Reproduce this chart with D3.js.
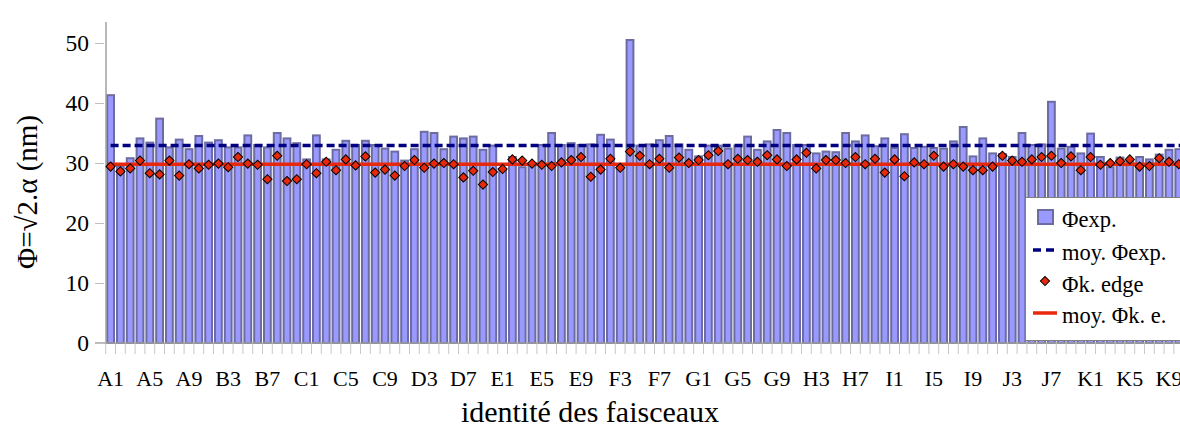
<!DOCTYPE html>
<html><head><meta charset="utf-8">
<script src="https://cdn.jsdelivr.net/npm/d3@7"></script>
<style>
body{margin:0;background:#fff}
svg{display:block}
</style>
</head><body><svg id="c" width="1180" height="428" font-family="Liberation Serif, Times New Roman, serif"></svg>
<script>
const letters = ["A","B","C","D","E","F","G","H","I","J","K"];
const numbers = [1,2,3,4,5,6,7,8,9,10];
const categories = letters.flatMap(l => numbers.map(n => l + n));

const phiExp = [
  41.3,29.5,30.8,34.1,33.4,37.4,32.6,33.9,32.3,34.5,
  33.4,33.8,32.6,32.6,34.6,33.0,32.6,35.0,34.1,33.3,
  30.6,34.6,30.6,32.2,33.7,33.0,33.7,33.0,32.4,31.9,
  30.4,32.3,35.2,35.0,32.3,34.4,34.1,34.4,32.2,32.9,
  29.0,31.0,29.3,29.8,33.0,35.0,33.0,33.3,33.0,33.1,
  34.7,33.9,29.5,50.5,32.9,33.1,33.8,34.5,33.1,32.2,
  31.1,32.9,32.9,32.4,32.9,34.4,32.2,33.6,35.5,35.0,
  33.0,33.0,31.6,31.9,31.8,35.0,33.6,34.6,32.8,34.1,
  32.5,34.8,32.5,32.7,32.5,32.4,33.6,36.0,31.1,34.1,
  31.6,31.5,31.0,35.0,33.0,33.1,40.2,32.4,32.7,31.6,
  34.9,31.0,29.3,30.9,30.5,31.0,30.6,31.4,32.2,32.3
];
const phiKEdge = [
  29.4,28.6,29.1,30.4,28.3,28.1,30.4,27.9,29.8,29.1,
  29.7,29.9,29.3,31.0,29.9,29.7,27.3,31.2,27.0,27.3,
  29.8,28.3,30.2,28.8,30.6,29.6,31.1,28.4,28.9,27.9,
  29.5,30.5,29.2,29.9,30.0,29.8,27.6,28.7,26.4,28.5,
  29.0,30.6,30.4,29.9,29.7,29.5,30.1,30.5,31.0,27.7,
  28.9,30.7,29.2,31.9,31.2,29.8,30.7,29.2,30.9,30.0,
  30.5,31.3,32.0,29.8,30.7,30.5,30.2,31.3,30.6,29.5,
  30.6,31.7,29.1,30.5,30.5,30.0,31.0,29.8,30.7,28.4,
  30.6,27.8,30.1,29.8,31.2,29.4,29.8,29.4,28.8,28.8,
  29.4,31.2,30.4,30.2,30.6,31.0,31.2,30.0,31.1,28.8,
  31.0,29.7,30.0,30.3,30.6,29.4,29.5,30.8,30.2,29.8
];
const meanPhiExp = 32.9;
const meanPhiKE = 29.8;
const yTicks = [0,10,20,30,40,50];
const xTickLabels = categories.filter((d,i) => i % 4 === 0);
const legendLabels = ["Φexp.","moy. Φexp.","Φk. edge","moy. Φk. e."];
const yTitle = "Φ=√2.α (nm)";
const xTitle = "identité des faisceaux";

const FONT = '"Liberation Serif","Times New Roman",serif';
const svg = d3.select("#c");
const x0 = 105.7, bandW = 9.8;
const x = d3.scaleBand().domain(categories).range([x0, x0 + bandW * categories.length]).padding(0);
const y = d3.scaleLinear().domain([0, 55]).range([343, 13]);
const bw = x.bandwidth();

const barFill = "#9999ff", barStroke = "#6c6ca0";
const navy = "#000080", red = "#e8280c";

// bars
svg.append("g").selectAll("rect").data(phiExp).join("rect")
  .attr("x", (d,i) => x(categories[i]) + 1.5)
  .attr("width", bw - 3)
  .attr("y", d => y(d))
  .attr("height", d => y(0) - y(d))
  .attr("fill", barFill)
  .attr("stroke", barStroke)
  .attr("stroke-width", 2);

// x axis line and ticks
svg.append("line").attr("x1", 95).attr("x2", 1180).attr("y1", y(0)).attr("y2", y(0))
  .attr("stroke", "#a0a0a0").attr("stroke-width", 1.5);
svg.append("g").selectAll("line").data(d3.range(categories.length + 1)).join("line")
  .attr("x1", i => x0 + i * bw).attr("x2", i => x0 + i * bw)
  .attr("y1", y(0) + 1).attr("y2", y(0) + 11)
  .attr("stroke", "#c8c8c8").attr("stroke-width", 1);

const xAxis = svg.append("g").attr("transform", `translate(0,${y(0)})`)
  .call(d3.axisBottom(x).tickValues(xTickLabels).tickSize(0));
xAxis.attr("font-family", null).attr("font-size", null);
xAxis.select(".domain").remove();
xAxis.selectAll("text").attr("y", 43).attr("dy", 0)
  .style("font-family", FONT).style("font-size", "22px").attr("fill", "#000");

// y axis
const yAxis = svg.append("g").attr("transform", "translate(104,0)")
  .call(d3.axisLeft(y).tickValues(yTicks).tickSize(9).tickPadding(6));
yAxis.attr("font-family", null).attr("font-size", null);
yAxis.select(".domain").remove();
yAxis.selectAll(".tick line").attr("stroke", "#c0c0c0");
yAxis.selectAll("text").style("font-family", FONT).style("font-size", "23.5px").attr("fill", "#000");
svg.append("line").attr("x1", 106).attr("x2", 106).attr("y1", 22).attr("y2", y(0))
  .attr("stroke", "#a0a0a0").attr("stroke-width", 1.5);

// mean lines
const xFirst = x(categories[0]) + bw / 2;
const xLast = x(categories[categories.length - 1]) + bw;
svg.append("line").attr("x1", xFirst).attr("x2", xLast)
  .attr("y1", y(meanPhiExp)).attr("y2", y(meanPhiExp))
  .attr("stroke", navy).attr("stroke-width", 3.5).attr("stroke-dasharray", "8,4");
svg.append("line").attr("x1", 107).attr("x2", xLast)
  .attr("y1", y(meanPhiKE)).attr("y2", y(meanPhiKE))
  .attr("stroke", red).attr("stroke-width", 3.5);

// diamonds
const diamond = d3.symbol(d3.symbolSquare, 42);
svg.append("g").selectAll("path").data(phiKEdge).join("path")
  .attr("d", diamond)
  .attr("transform", (d,i) => `translate(${x(categories[i]) + bw/2},${y(d)}) rotate(45)`)
  .attr("fill", red).attr("stroke", "#000").attr("stroke-width", 1);

// legend
const lg = svg.append("g");
lg.append("rect").attr("x", 1025.5).attr("y", 197.5).attr("width", 170).attr("height", 143)
  .attr("fill", "#fff").attr("stroke", "#808080").attr("stroke-width", 1);
const rows = [227, 260, 292, 323];
lg.append("rect").attr("x", 1038).attr("y", 210).attr("width", 15).attr("height", 14)
  .attr("fill", barFill).attr("stroke", barStroke).attr("stroke-width", 2);
lg.append("line").attr("x1", 1033).attr("x2", 1055).attr("y1", 250).attr("y2", 250)
  .attr("stroke", navy).attr("stroke-width", 3.5).attr("stroke-dasharray", "8,5");
lg.append("path").attr("d", diamond).attr("transform", "translate(1045,281) rotate(45)")
  .attr("fill", red).attr("stroke", "#000").attr("stroke-width", 1);
lg.append("line").attr("x1", 1033).attr("x2", 1057).attr("y1", 313).attr("y2", 313)
  .attr("stroke", red).attr("stroke-width", 3.5);
lg.selectAll("text.l").data(legendLabels).join("text").attr("class", "l")
  .attr("x", 1062).attr("y", (d,i) => rows[i])
  .style("font-family", FONT).style("font-size", "22.5px").attr("fill", "#000").text(d => d);

// titles
svg.append("text").attr("transform", "translate(37,192) rotate(-90)")
  .attr("text-anchor", "middle").style("font-family", FONT).style("font-size", "29px")
  .attr("fill", "#000").text(yTitle);
svg.append("text").attr("x", 590).attr("y", 422).attr("text-anchor", "middle")
  .style("font-family", FONT).style("font-size", "30px").attr("fill", "#000").text(xTitle);
</script>
</body></html>
